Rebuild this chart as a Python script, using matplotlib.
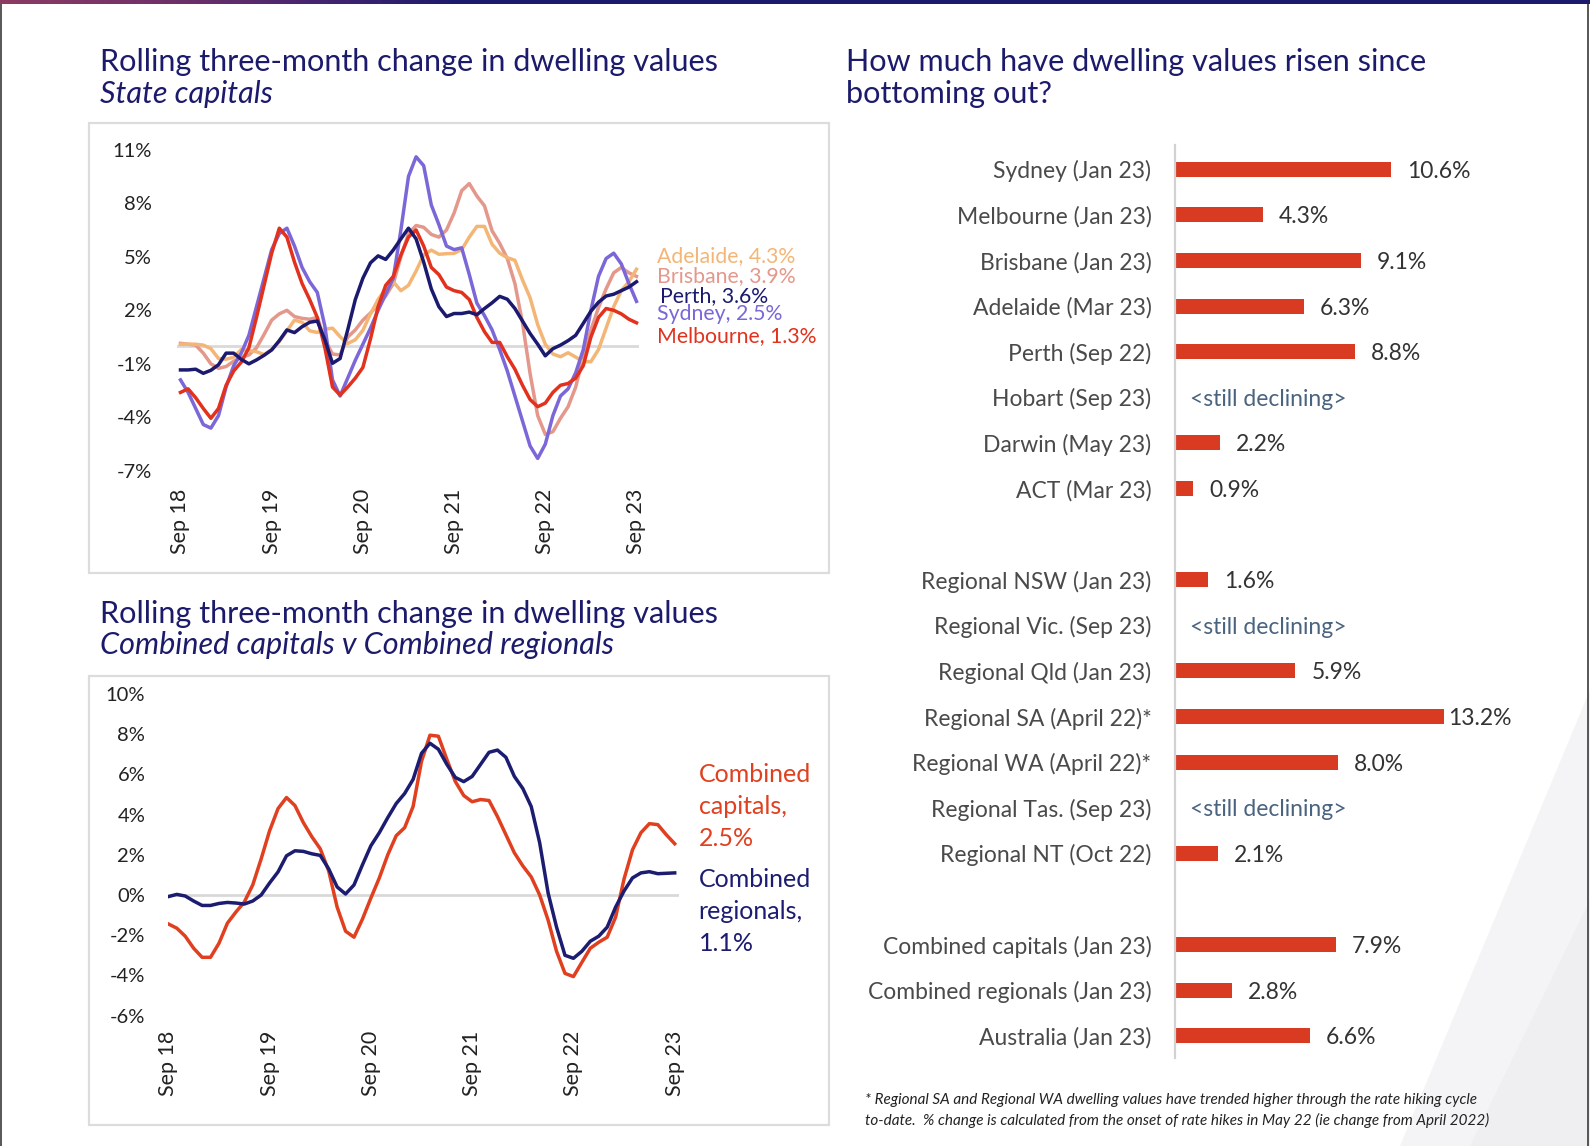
import numpy as np
import matplotlib
matplotlib.use("Agg")
import matplotlib.pyplot as plt
from matplotlib.patches import Rectangle, Polygon
from matplotlib.colors import LinearSegmentedColormap

# ---------------- data ----------------
x_ticklabels = ["Sep 18", "Sep 19", "Sep 20", "Sep 21", "Sep 22", "Sep 23"]

sydney = [-1.9, -2.6, -3.5, -4.4, -4.6, -3.9, -2.3, -1.1, -0.4, 0.6,
          2.2, 3.8, 5.4, 6.3, 6.6, 5.6, 4.4, 3.6, 3.0, 1.1,
          -1.9, -2.8, -1.8, -0.8, 0.1, 1.0, 2.0, 2.9, 3.8, 6.5,
          9.5, 10.6, 10.1, 7.9, 6.8, 5.6, 5.4, 5.5, 4.0, 2.4,
          1.7, 0.9, -0.2, -1.4, -2.8, -4.2, -5.6, -6.3, -5.5, -3.9,
          -2.8, -2.4, -1.5, -0.2, 2.0, 3.9, 4.9, 5.2, 4.6, 3.5, 2.5]
melbourne = [-2.6, -2.4, -2.9, -3.5, -4.05, -3.5, -2.2, -1.4, -0.9, -0.1,
             1.6, 3.4, 5.2, 6.6, 6.1, 4.7, 3.5, 2.6, 1.6, -0.1,
             -2.3, -2.75, -2.3, -1.8, -1.2, 0.4, 2.2, 3.4, 3.9, 5.1,
             6.1, 6.5, 5.6, 4.4, 4.0, 3.3, 3.1, 3.0, 2.6, 1.6,
             0.8, 0.2, 0.2, -0.6, -1.3, -2.2, -3.0, -3.4, -3.2, -2.6,
             -2.2, -2.1, -1.8, -1.1, 0.5, 1.6, 2.1, 2.0, 1.8, 1.5, 1.3]
perth = [-1.34, -1.34, -1.3, -1.53, -1.36, -1.05, -0.4, -0.4, -0.75, -1.0,
         -0.78, -0.52, -0.22, 0.3, 0.9, 0.75, 1.08, 1.33, 1.4, 0.35,
         -0.97, -0.7, 0.9, 2.6, 3.8, 4.66, 5.05, 4.85, 5.38, 6.0,
         6.6, 6.0, 4.7, 3.2, 2.2, 1.65, 1.82, 1.82, 1.9, 1.75,
         2.1, 2.42, 2.78, 2.62, 2.1, 1.4, 0.7, 0.1, -0.55, -0.15,
         0.05, 0.3, 0.6, 1.27, 1.95, 2.45, 2.8, 2.9, 3.1, 3.3, 3.6]
adelaide = [0.1, 0.1, 0.1, 0.05, -0.15, -0.7, -0.74, -0.63, -0.2, -0.25,
            -0.32, -0.48, -0.2, 0.25, 0.85, 1.45, 1.33, 0.85, 0.76, 0.94,
            1.0, 0.52, 0.14, 0.35, 0.88, 1.8, 2.6, 3.2, 3.6, 3.1,
            3.4, 4.2, 5.1, 5.37, 5.14, 5.17, 5.19, 5.4, 6.1, 6.7,
            6.7, 5.7, 5.2, 4.95, 4.8, 3.7, 2.7, 1.2, 0.1, -0.45,
            -0.6, -0.38, -0.62, -0.88, -0.88, -0.2, 1.0, 2.2, 3.1, 3.6, 4.3]
brisbane = [0.15, 0.1, 0.05, -0.4, -1.0, -1.25, -1.15, -0.85, -0.65, -0.5,
            -0.1, 0.65, 1.45, 1.8, 2.0, 1.65, 1.55, 1.5, 1.6, 0.35,
            -0.45, -0.5, 0.5, 0.9, 1.45, 1.85, 2.3, 2.8, 3.5, 5.0,
            6.3, 6.75, 6.65, 6.25, 6.1, 6.5, 7.45, 8.7, 9.1, 8.4,
            7.85, 6.45, 5.75, 4.9, 3.5, 1.3, -1.55, -3.9, -4.95, -4.8,
            -4.05, -3.4, -2.3, -0.6, 0.9, 2.15, 3.2, 4.1, 4.4, 4.1, 3.9]

combined_capitals = [-1.44, -1.65, -2.05, -2.65, -3.1, -3.1, -2.4, -1.4, -0.85, -0.35,
                     0.5, 1.8, 3.2, 4.3, 4.85, 4.45, 3.6, 2.9, 2.3, 1.2,
                     -0.6, -1.8, -2.1, -1.2, -0.15, 0.85, 2.0, 2.95, 3.35, 4.4,
                     6.65, 7.95, 7.9, 6.75, 5.65, 4.95, 4.64, 4.75, 4.7, 3.9,
                     3.0, 2.1, 1.45, 0.9, 0.0, -1.25, -2.8, -3.9, -4.06, -3.35,
                     -2.65, -2.35, -2.1, -1.1, 0.8, 2.25, 3.1, 3.55, 3.5, 3.0, 2.55]
combined_regionals = [-0.08, 0.03, -0.05, -0.3, -0.52, -0.52, -0.42, -0.37, -0.4, -0.45,
                      -0.3, 0.0, 0.6, 1.15, 1.95, 2.2, 2.17, 2.05, 1.97, 1.3,
                      0.4, 0.05, 0.5, 1.5, 2.45, 3.1, 3.85, 4.55, 5.05, 5.75,
                      7.05, 7.55, 7.25, 6.5, 5.85, 5.64, 5.9, 6.5, 7.1, 7.21,
                      6.85, 5.9, 5.3, 4.4, 2.6, 0.1, -1.6, -3.0, -3.15, -2.8,
                      -2.3, -2.05, -1.6, -0.6, 0.2, 0.85, 1.1, 1.16, 1.06, 1.08, 1.1]

bar_labels = ["Sydney (Jan 23)", "Melbourne (Jan 23)", "Brisbane (Jan 23)",
              "Adelaide (Mar 23)", "Perth (Sep 22)", "Hobart (Sep 23)",
              "Darwin (May 23)", "ACT (Mar 23)",
              "Regional NSW (Jan 23)", "Regional Vic. (Sep 23)", "Regional Qld (Jan 23)",
              "Regional SA (April 22)*", "Regional WA (April 22)*", "Regional Tas. (Sep 23)",
              "Regional NT (Oct 22)",
              "Combined capitals (Jan 23)", "Combined regionals (Jan 23)", "Australia (Jan 23)"]
bar_values = [10.6, 4.3, 9.1, 6.3, 8.8, np.nan, 2.2, 0.9,
              1.6, np.nan, 5.9, 13.2, 8.0, np.nan, 2.1,
              7.9, 2.8, 6.6]
bar_groups = [8, 7, 3]

# ---------------- style ----------------
W, H, DPI = 1590, 1146, 100
NAVY = "#1b1a6b"
C_SYD = "#7b67d8"
C_MEL = "#e2321d"
C_PER = "#1b1a6e"
C_ADL = "#f4b676"
C_BNE = "#e4978b"
C_CAP = "#e0401f"
C_REG = "#1c1c70"
BAR = "#d83a22"
FONT = "Lato"

plt.rcParams["font.family"] = [FONT, "DejaVu Sans"]

fig = plt.figure(figsize=(W / DPI, H / DPI), dpi=DPI)
fig.patch.set_facecolor("white")
R = fig.canvas.get_renderer()


def rect(x0, y0, x1, y1):
    return [x0 / W, 1 - y1 / H, (x1 - x0) / W, (y1 - y0) / H]


def ftext(x, y, s, **kw):
    return fig.text(x / W, 1 - y / H, s, **kw)


def fit(t, target):
    w = t.get_window_extent(R).width
    t.set_fontsize(t.get_fontsize() * target / w)
    return t.get_fontsize()


# background decoration
bg = fig.add_axes([0, 0, 1, 1], zorder=-10)
bg.set_axis_off()
bg.set_xlim(0, W)
bg.set_ylim(H, 0)
bg.add_patch(Polygon([[1400, H], [W, H], [W, 690]], closed=True,
                     fc="#f4f4f6", ec="none"))
bg.add_patch(Polygon([[1470, H], [W, H], [W, 900]], closed=True,
                     fc="#efeff2", ec="none"))
bg.plot([1, 1], [4, H], color="#3a3a3a", lw=1.2)
bg.plot([W - 2, W - 2], [4, H], color="#3a3a3a", lw=1.2)

band = fig.add_axes(rect(0, 0, W, 4), zorder=5)
band.set_axis_off()
cmap = LinearSegmentedColormap.from_list(
    "band", [(0, "#8c3b63"), (0.12, "#6a2f6a"), (0.21, "#3f2370"), (0.29, NAVY), (1, NAVY)])
band.imshow(np.linspace(0, 1, 400)[None, :], aspect="auto", cmap=cmap,
            extent=[0, 1, 0, 1])

# frames around line charts
for (x0, y0, x1, y1) in [(89, 123, 829, 573), (89, 676, 829, 1125)]:
    fig.add_artist(Rectangle((x0 / W, 1 - y1 / H), (x1 - x0) / W, (y1 - y0) / H,
                             transform=fig.transFigure, fill=False,
                             ec="#dcdcdc", lw=1.6))

# ---------------- titles ----------------
t1 = ftext(100, 71, "Rolling three-month change in dwelling values",
           color=NAVY, fontsize=20, va="baseline")
ts = fit(t1, 622)
ftext(100, 102.5, "State capitals", color=NAVY, fontsize=ts,
      style="italic", va="baseline")
ftext(100, 622.5, "Rolling three-month change in dwelling values",
      color=NAVY, fontsize=ts, va="baseline")
ftext(100, 654, "Combined capitals v Combined regionals", color=NAVY,
      fontsize=ts, style="italic", va="baseline")
ftext(846, 71, "How much have dwelling values risen since", color=NAVY,
      fontsize=ts, va="baseline")
ftext(846, 102.5, "bottoming out?", color=NAVY, fontsize=ts, va="baseline")


def style_line_ax(ax, ypad, xpad):
    for s in ax.spines.values():
        s.set_visible(False)
    ax.tick_params(axis="both", length=0, colors="#222222")
    ax.tick_params(axis="y", pad=ypad, labelsize=14.5)
    ax.tick_params(axis="x", pad=xpad, labelsize=15.5)
    ax.axhline(0, color="#d9d9d9", lw=2, zorder=0)
    ax.patch.set_alpha(0)


# ---------------- top line chart ----------------
ax1 = fig.add_axes(rect(177, 149.65, 639, 470.95))
x = np.arange(len(sydney))
for series, col in [(brisbane, C_BNE), (adelaide, C_ADL), (sydney, C_SYD),
                    (melbourne, C_MEL), (perth, C_PER)]:
    ax1.plot(x, series, color=col, lw=2.5)
ax1.set_xlim(-0.46, 60.33)
ax1.set_ylim(-7, 11)
ax1.set_yticks(np.arange(-7, 12, 3))
ax1.set_yticklabels([f"{v}%" for v in np.arange(-7, 12, 3)])
ax1.set_xticks(x[::12])
ax1.set_xticklabels(x_ticklabels, rotation=90)
style_line_ax(ax1, 18, 13)

lab = ftext(657, 341.7, f"Melbourne, {melbourne[-1]:.1f}%", color=C_MEL,
            fontsize=14, va="baseline")
ls = fit(lab, 160)
ftext(657, 261.6, f"Adelaide, {adelaide[-1]:.1f}%", color=C_ADL, fontsize=ls, va="baseline")
ftext(657, 281.9, f"Brisbane, {brisbane[-1]:.1f}%", color=C_BNE, fontsize=ls, va="baseline")
ftext(660, 302.2, f"Perth, {perth[-1]:.1f}%", color=C_PER, fontsize=ls, va="baseline")
ftext(657, 320.4, f"Sydney, {sydney[-1]:.1f}%", color=C_SYD, fontsize=ls, va="baseline")

# ---------------- bottom line chart ----------------
ax2 = fig.add_axes(rect(167.5, 694, 679, 1015.6))
x2 = np.arange(len(combined_capitals))
ax2.plot(x2, combined_capitals, color=C_CAP, lw=2.5)
ax2.plot(x2, combined_regionals, color=C_REG, lw=2.5)
ax2.set_xlim(-0.1, 60.51)
ax2.set_ylim(-6, 10)
ax2.set_yticks(np.arange(-6, 11, 2))
ax2.set_yticklabels([f"{v}%" for v in np.arange(-6, 11, 2)])
ax2.set_xticks(x2[::12])
ax2.set_xticklabels(x_ticklabels, rotation=90)
style_line_ax(ax2, 16, 11)

c1 = ftext(698.6, 781.8, "Combined", color=C_CAP, fontsize=16, va="baseline")
cs = fit(c1, 113)
ftext(698.6, 814.2, "capitals,", color=C_CAP, fontsize=cs, va="baseline")
ftext(698.6, 845.7, f"{combined_capitals[-1]:.1f}%", color=C_CAP, fontsize=cs, va="baseline")
ftext(698.6, 887.3, "Combined", color=C_REG, fontsize=cs, va="baseline")
ftext(698.6, 918.7, "regionals,", color=C_REG, fontsize=cs, va="baseline")
ftext(698.6, 951.1, f"{combined_regionals[-1]:.1f}%", color=C_REG, fontsize=cs, va="baseline")

# ---------------- bar chart ----------------
rows = []
r = 0
for g in bar_groups:
    for _ in range(g):
        rows.append(r)
        r += 1
    r += 1
rows = np.array(rows)

BFS = 16.5
ax3 = fig.add_axes(rect(1175, 145, W, 1058))
vals = np.array(bar_values)
ax3.barh(rows, np.nan_to_num(vals), height=0.33, color=BAR)
ax3.set_xlim(0, (W - 1175) / 20.4)
ax3.set_ylim(19.49, -0.533)
for s in ["top", "right", "bottom"]:
    ax3.spines[s].set_visible(False)
ax3.spines["left"].set_color("#d2d2d2")
ax3.spines["left"].set_linewidth(1.6)
ax3.set_xticks([])
ax3.set_yticks(rows)
ax3.set_yticklabels(bar_labels, fontsize=BFS, color="#4a4a4a")
ax3.tick_params(axis="y", length=0, pad=17)
for tl in ax3.get_yticklabels():
    tl.set_va("center_baseline")
ax3.patch.set_alpha(0)
vmax = np.nanmax(vals)
for yy, v in zip(rows, vals):
    if np.isnan(v):
        ax3.annotate("<still declining>", (0, yy), xytext=(11, -1.5),
                     textcoords="offset points", va="center", ha="left",
                     fontsize=BFS, color="#4a6480")
    else:
        off = 3 if v == vmax else 11.5
        ax3.annotate(f"{v:.1f}%", (v, yy), xytext=(off, -1.5),
                     textcoords="offset points", va="center", ha="left",
                     fontsize=BFS, color="#333333")

# ---------------- footnote ----------------
f1 = ftext(865, 1104, "* Regional SA and Regional WA dwelling values have trended higher through the rate hiking cycle",
           color="#222222", fontsize=11, style="italic", va="baseline")
f2 = ftext(865, 1124.5, "to-date.  % change is calculated from the onset of rate hikes in May 22 (ie change from April 2022)",
           color="#222222", fontsize=11, style="italic", va="baseline")
w1 = f1.get_window_extent(R).width
w2 = f2.get_window_extent(R).width
fs = 11 * 625 / max(w1, w2)
f1.set_fontsize(fs)
f2.set_fontsize(fs)

fig.savefig("out.png", dpi=DPI, facecolor="white")
